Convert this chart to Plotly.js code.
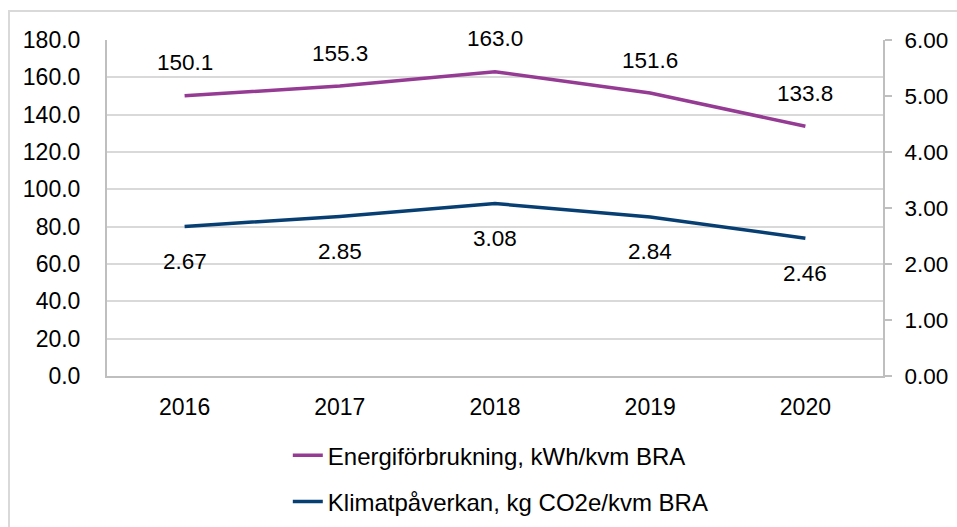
<!DOCTYPE html>
<html>
<head>
<meta charset="utf-8">
<script src="https://cdn.plot.ly/plotly-3.0.1.min.js"></script>
<style>
html,body{margin:0;padding:0;background:#fff;}
#wrap{position:relative;width:957px;height:527px;overflow:hidden;}
#chart{position:absolute;left:0;top:0;width:957px;height:527px;}
#frame{position:absolute;left:8px;top:10px;width:1000px;height:600px;border:2px solid #D9D9D9;box-sizing:border-box;pointer-events:none;}
</style>
</head>
<body>
<div id="wrap">
<div id="chart"></div>
<div id="frame"></div>
</div>
<script>
const years = ['2016', '2017', '2018', '2019', '2020'];
const energy = [150.1, 155.3, 163.0, 151.6, 133.8];
const climate = [2.67, 2.85, 3.08, 2.84, 2.46];
const energyName = 'Energiförbrukning, kWh/kvm BRA';
const climateName = 'Klimatpåverkan, kg CO2e/kvm BRA';

const FONT = 'Liberation Sans, Arial, sans-serif';
const FS = 23;
const LFS = 24;
const purple = '#953B94';
const navy = '#083F72';

const traces = [
  {x: years, y: energy, type: 'scatter', mode: 'lines', name: energyName,
   line: {color: purple, width: 3.5}, yaxis: 'y', legendgroup: 'a'},
  {x: years, y: climate, type: 'scatter', mode: 'lines', name: climateName,
   line: {color: navy, width: 3.5}, yaxis: 'y2', legendgroup: 'b'}
];

const annotations = [];
years.forEach((yr, i) => {
  annotations.push({x: i, y: energy[i], xref: 'x', yref: 'y', text: energy[i].toFixed(1),
    showarrow: false, yshift: 33, font: {family: FONT, size: 22.5, color: '#000'}});
  annotations.push({x: i, y: climate[i], xref: 'x', yref: 'y2', text: climate[i].toFixed(2),
    showarrow: false, yshift: -35, font: {family: FONT, size: 22.5, color: '#000'}});
});

const layout = {
  width: 957, height: 527,
  margin: {l: 107, r: 74, t: 40, b: 151, autoexpand: false},
  paper_bgcolor: '#fff', plot_bgcolor: '#fff',
  font: {family: FONT, size: FS, color: '#000'},
  showlegend: true,
  legend: {x: 0.233, xanchor: 'left', y: -0.17, yanchor: 'top', orientation: 'v',
    traceorder: 'grouped', tracegroupgap: 12, font: {family: FONT, size: LFS, color: '#000'},
    bgcolor: 'rgba(0,0,0,0)'},
  xaxis: {type: 'category', range: [-0.5, 4.5], showline: true, linecolor: '#BFBFBF', linewidth: 2,
    ticks: '', showgrid: false, zeroline: false, ticklabelstandoff: 9,
    tickfont: {family: FONT, size: FS, color: '#000'}},
  yaxis: {range: [0, 180], dtick: 20, tickformat: '.1f', showline: true, linecolor: '#BFBFBF', linewidth: 2,
    ticks: '', showgrid: true, gridcolor: '#D9D9D9', gridwidth: 1.5, zeroline: false,
    ticklabelstandoff: 20, tickfont: {family: FONT, size: FS, color: '#000'}},
  yaxis2: {range: [0, 6], dtick: 1, tickformat: '.2f', overlaying: 'y', side: 'right',
    showline: true, linecolor: '#BFBFBF', linewidth: 2, ticks: 'outside', ticklen: 7, tickcolor: '#BFBFBF', tickwidth: 2,
    showgrid: false, zeroline: false, ticklabelstandoff: 8, tickfont: {family: FONT, size: 22.5, color: '#000'}},
  annotations: annotations
};

Plotly.newPlot('chart', traces, layout, {displayModeBar: false});
</script>
</body>
</html>
